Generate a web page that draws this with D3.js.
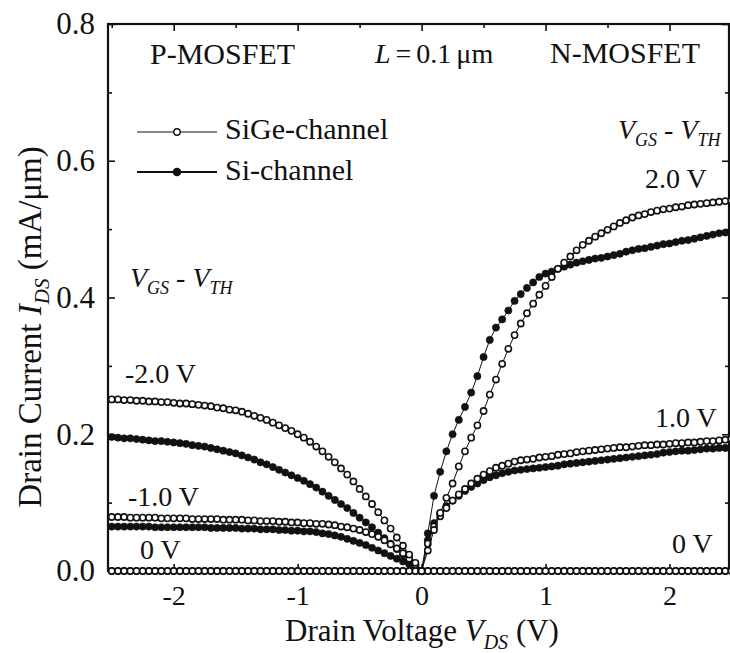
<!DOCTYPE html>
<html>
<head>
<meta charset="utf-8">
<script src="https://cdn.jsdelivr.net/npm/d3@7"></script>
<style>
  body { margin: 0; background: #fff; }
  svg { display: block; }
  text { font-family: "Liberation Serif", "Times New Roman", serif; fill: #111; }
</style>
</head>
<body>
<svg id="chart"></svg>
<script>
/* Drain voltage grids (V) */
const vdsN = [0.00,0.05,0.10,0.15,0.20,0.25,0.30,0.35,0.40,0.45,
  0.50,0.55,0.60,0.65,0.70,0.75,0.80,0.85,0.90,0.95,
  1.00,1.05,1.10,1.15,1.20,1.25,1.30,1.35,1.40,1.45,
  1.50,1.55,1.60,1.65,1.70,1.75,1.80,1.85,1.90,1.95,
  2.00,2.05,2.10,2.15,2.20,2.25,2.30,2.35,2.40,2.45,2.50];
const vdsP = [0.00,-0.05,-0.10,-0.15,-0.20,-0.25,-0.30,-0.35,-0.40,-0.45,
  -0.50,-0.55,-0.60,-0.65,-0.70,-0.75,-0.80,-0.85,-0.90,-0.95,
  -1.00,-1.05,-1.10,-1.15,-1.20,-1.25,-1.30,-1.35,-1.40,-1.45,
  -1.50,-1.55,-1.60,-1.65,-1.70,-1.75,-1.80,-1.85,-1.90,-1.95,
  -2.00,-2.05,-2.10,-2.15,-2.20,-2.25,-2.30,-2.35,-2.40,-2.45,-2.50];

/* P-MOSFET |I_DS| (mA/um) */
const pSiGe2 = [0.000,0.012,0.024,0.037,0.049,0.062,0.074,0.086,0.098,0.109,
  0.120,0.131,0.141,0.150,0.159,0.167,0.175,0.182,0.189,0.195,
  0.200,0.205,0.209,0.213,0.217,0.221,0.224,0.227,0.230,0.233,
  0.235,0.236,0.238,0.239,0.241,0.242,0.243,0.244,0.245,0.245,
  0.246,0.247,0.247,0.248,0.248,0.249,0.249,0.250,0.250,0.251,0.251];
const pSi2 = [0.000,0.008,0.016,0.024,0.032,0.040,0.048,0.056,0.064,0.071,
  0.078,0.085,0.092,0.098,0.104,0.110,0.116,0.122,0.127,0.132,
  0.136,0.140,0.144,0.148,0.152,0.156,0.159,0.163,0.166,0.169,
  0.172,0.174,0.176,0.178,0.180,0.182,0.183,0.184,0.186,0.187,
  0.188,0.189,0.190,0.190,0.191,0.192,0.193,0.194,0.194,0.195,0.196];
const pSiGe1 = [0.000,0.009,0.018,0.026,0.033,0.039,0.045,0.050,0.054,0.057,
  0.060,0.062,0.064,0.065,0.067,0.068,0.069,0.069,0.070,0.070,
  0.071,0.071,0.072,0.072,0.073,0.073,0.073,0.074,0.074,0.075,
  0.075,0.075,0.075,0.076,0.076,0.076,0.076,0.076,0.077,0.077,
  0.077,0.077,0.077,0.078,0.078,0.078,0.078,0.078,0.079,0.079,0.079];
const pSi1 = [0.000,0.005,0.010,0.014,0.018,0.022,0.026,0.030,0.034,0.038,
  0.041,0.044,0.047,0.050,0.052,0.054,0.055,0.057,0.058,0.058,
  0.059,0.059,0.060,0.060,0.061,0.061,0.061,0.062,0.062,0.062,
  0.063,0.063,0.063,0.063,0.063,0.064,0.064,0.064,0.064,0.064,
  0.064,0.064,0.064,0.064,0.065,0.065,0.065,0.065,0.065,0.065,0.065];

/* N-MOSFET I_DS (mA/um) */
const nSiGe2 = [0.000,0.030,0.060,0.085,0.107,0.128,0.153,0.175,0.195,0.213,
  0.234,0.258,0.280,0.303,0.325,0.345,0.362,0.377,0.391,0.404,
  0.417,0.430,0.442,0.451,0.460,0.469,0.477,0.483,0.489,0.494,
  0.499,0.504,0.509,0.513,0.517,0.520,0.522,0.525,0.527,0.529,
  0.530,0.532,0.533,0.535,0.536,0.537,0.538,0.539,0.540,0.541,0.542];
const nSi2 = [0.000,0.055,0.110,0.145,0.175,0.200,0.221,0.240,0.261,0.285,
  0.313,0.338,0.356,0.368,0.381,0.395,0.405,0.414,0.422,0.430,
  0.435,0.438,0.442,0.445,0.448,0.451,0.453,0.455,0.457,0.458,
  0.460,0.462,0.464,0.467,0.469,0.471,0.472,0.474,0.476,0.478,
  0.479,0.481,0.483,0.484,0.486,0.488,0.490,0.492,0.494,0.495,0.496];
const nSiGe1 = [0.000,0.040,0.065,0.080,0.092,0.103,0.112,0.120,0.128,0.135,
  0.141,0.146,0.151,0.154,0.157,0.160,0.162,0.163,0.164,0.166,
  0.167,0.168,0.170,0.171,0.172,0.174,0.175,0.176,0.177,0.178,
  0.179,0.180,0.181,0.181,0.182,0.183,0.184,0.184,0.185,0.185,
  0.186,0.187,0.187,0.188,0.188,0.189,0.190,0.190,0.191,0.192,0.193];
const nSi1 = [0.000,0.045,0.070,0.084,0.095,0.103,0.110,0.117,0.123,0.128,
  0.133,0.137,0.140,0.143,0.145,0.147,0.148,0.149,0.150,0.151,
  0.152,0.153,0.154,0.156,0.157,0.158,0.159,0.160,0.161,0.162,
  0.163,0.164,0.165,0.166,0.167,0.168,0.169,0.170,0.171,0.173,
  0.174,0.175,0.176,0.176,0.177,0.178,0.179,0.179,0.180,0.180,0.181];

/* V_GS - V_TH = 0 V: no current on either side */
const zeroCurve = [0,0,0,0,0,0,0,0,0,0, 0,0,0,0,0,0,0,0,0,0,
  0,0,0,0,0,0,0,0,0,0, 0,0,0,0,0,0,0,0,0,0, 0,0,0,0,0,0,0,0,0,0,0];

/* Tick values */
const xMajor = [-2, -1, 0, 1, 2];
const xMinor = [-2.5, -1.5, -0.5, 0.5, 1.5];
const yMajor = [0, 0.2, 0.4, 0.6, 0.8];
const yMinor = [0.1, 0.3, 0.5, 0.7];

/* Curves: Si first so the open SiGe circles sit on top */
const curves = [
  { v: vdsP, i: zeroCurve, kind: 'Si' },
  { v: vdsN, i: zeroCurve, kind: 'Si' },
  { v: vdsP, i: pSi1, kind: 'Si' },
  { v: vdsP, i: pSi2, kind: 'Si' },
  { v: vdsN, i: nSi1, kind: 'Si' },
  { v: vdsN, i: nSi2, kind: 'Si' },
  { v: vdsP, i: zeroCurve, kind: 'SiGe' },
  { v: vdsN, i: zeroCurve, kind: 'SiGe' },
  { v: vdsP, i: pSiGe1, kind: 'SiGe' },
  { v: vdsP, i: pSiGe2, kind: 'SiGe' },
  { v: vdsN, i: nSiGe1, kind: 'SiGe' },
  { v: vdsN, i: nSiGe2, kind: 'SiGe' }
];

const W = 730, H = 653;
const plot = { left: 108, right: 729, top: 24, bottom: 571 };

const svg = d3.select('#chart').attr('width', W).attr('height', H);

const x = d3.scaleLinear().domain([-2.53, 2.48]).range([plot.left, plot.right]);
const y = d3.scaleLinear().domain([0, 0.8]).range([plot.bottom, plot.top]);

/* Axes, ticks pointing inward */
function tickAxis(axisFn, vals, size, pos, labels) {
  const a = axisFn.tickValues(vals).tickSize(-size).tickSizeOuter(0);
  if (!labels) a.tickFormat('');
  const g = svg.append('g').attr('transform', pos).call(a);
  g.select('.domain').remove();
  g.selectAll('line').attr('stroke', '#111').attr('stroke-width', 1.6);
  return g;
}
const gx = tickAxis(d3.axisBottom(x).tickPadding(14).tickFormat(d => (d < 0 ? '-' : '') + Math.abs(d)),
  xMajor, 7, `translate(0,${plot.bottom})`, true);
gx.selectAll('text').style('font-size', '28px').attr('fill', '#111');
tickAxis(d3.axisBottom(x), xMinor, 4, `translate(0,${plot.bottom})`, false);
tickAxis(d3.axisTop(x), xMajor, 7, `translate(0,${plot.top})`, false);
tickAxis(d3.axisTop(x), xMinor, 4, `translate(0,${plot.top})`, false);

const gy = tickAxis(d3.axisLeft(y).tickPadding(13).tickFormat(d3.format('.1f')), yMajor, 7, `translate(${plot.left},0)`, true);
gy.selectAll('text').style('font-size', '31px').attr('fill', '#111');
tickAxis(d3.axisLeft(y), yMinor, 4, `translate(${plot.left},0)`, false);
tickAxis(d3.axisRight(y), yMajor, 7, `translate(${plot.right},0)`, false);
tickAxis(d3.axisRight(y), yMinor, 4, `translate(${plot.right},0)`, false);

/* Frame */
svg.append('rect')
  .attr('x', plot.left).attr('y', plot.top)
  .attr('width', plot.right - plot.left).attr('height', plot.bottom - plot.top)
  .attr('fill', 'none').attr('stroke', '#111').attr('stroke-width', 2.2);

/* Curves */
const line = d3.line().x(d => x(d[0])).y(d => y(d[1]));
curves.forEach(c => {
  const pts = c.v.map((v, k) => [v, c.i[k]]);
  const g = svg.append('g');
  g.append('path').attr('d', line(pts))
    .attr('fill', 'none').attr('stroke', '#111').attr('stroke-width', 1);
  g.selectAll('circle').data(pts).join('circle')
    .attr('cx', d => x(d[0])).attr('cy', d => y(d[1]))
    .attr('r', c.kind === 'Si' ? 3.6 : 3.1)
    .attr('fill', c.kind === 'Si' ? '#111' : '#fff')
    .attr('stroke', '#111').attr('stroke-width', c.kind === 'Si' ? 0.6 : 1.6);
});

/* Text helpers: parts are [text, italic, sub] */
function richText(px, py, size, parts, attrs) {
  const t = svg.append('text').attr('x', px).attr('y', py).style('font-size', size + 'px');
  if (attrs) Object.entries(attrs).forEach(([k, v]) => t.attr(k, v));
  let shifted = false;
  parts.forEach(([s, it, sub]) => {
    const ts = t.append('tspan').text(s)
      .style('font-style', it ? 'italic' : 'normal')
      .style('font-size', (sub ? Math.round(size * 0.64) : size) + 'px');
    if (sub && !shifted) { ts.attr('dy', size * 0.25); shifted = true; }
    else if (!sub && shifted) { ts.attr('dy', -size * 0.25); shifted = false; }
  });
  return t;
}

richText(150, 64, 30, [['P-MOSFET']]);
richText(375, 63, 28, [['L', true], [' = 0.1 μm']], { 'word-spacing': '-2px' });
richText(550, 63, 30, [['N-MOSFET']]);

/* Legend */
const legend = [
  { kind: 'SiGe', label: 'SiGe-channel', ly: 132, ty: 139 },
  { kind: 'Si', label: 'Si-channel', ly: 172, ty: 180 }
];
legend.forEach(l => {
  svg.append('line').attr('x1', 137).attr('x2', 217).attr('y1', l.ly).attr('y2', l.ly)
    .attr('stroke', '#111').attr('stroke-width', l.kind === 'Si' ? 2 : 1);
  svg.append('circle').attr('cx', 177).attr('cy', l.ly)
    .attr('r', l.kind === 'Si' ? 3.6 : 3.2)
    .attr('fill', l.kind === 'Si' ? '#111' : '#fff')
    .attr('stroke', '#111').attr('stroke-width', 1.4);
  richText(225, l.ty, 30, [[l.label]]);
});

/* Curve annotations */
const vgsParts = [['V', true], ['GS', true, true], [' - '], ['V', true], ['TH', true, true]];
richText(618, 139, 28, vgsParts);
richText(645, 188, 28, [['2.0 V']]);
richText(655, 427, 28, [['1.0 V']]);
richText(672, 553, 28, [['0 V']]);
richText(130, 287, 28, vgsParts);
richText(125, 383, 28, [['-2.0 V']]);
richText(128, 506, 28, [['-1.0 V']]);
richText(140, 559, 28, [['0 V']]);

/* Axis titles */
richText(422, 641, 31, [['Drain Voltage '], ['V', true], ['DS', true, true], [' (V)']],
  { 'text-anchor': 'middle' });
richText(0, 0, 33, [['Drain Current '], ['I', true], ['DS', true, true], [' (mA/μm)']],
  { 'text-anchor': 'middle', transform: 'translate(41,327) rotate(-90)' });
</script>
</body>
</html>
